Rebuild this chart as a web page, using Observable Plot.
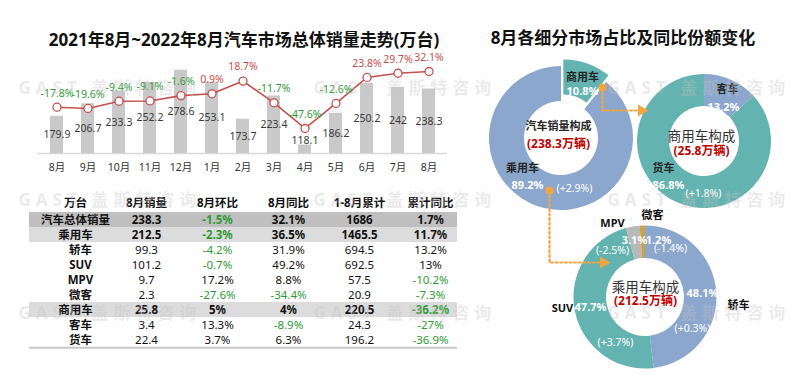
<!DOCTYPE html>
<html><head><meta charset="utf-8">
<script src="https://cdn.jsdelivr.net/npm/d3@7"></script>
<script src="https://cdn.jsdelivr.net/npm/@observablehq/plot@0.6"></script>
<style>
body{margin:0;background:#fff;}
#page{position:relative;width:800px;height:390px;overflow:hidden;background:#fff;font-family:"Noto Sans","Noto Sans CJK SC",sans-serif;}
.title{position:absolute;font-weight:700;font-size:17px;color:#111;white-space:nowrap;transform:translate(-50%,-50%);line-height:1;}
</style></head><body><div id="page"></div>
<script>
// ---------------- DATA ----------------
const leftTitle = "2021年8月~2022年8月汽车市场总体销量走势(万台)";
const rightTitle = "8月各细分市场占比及同比份额变化";
const monthKeys = ["2021-08","2021-09","2021-10","2021-11","2021-12","2022-01","2022-02","2022-03","2022-04","2022-05","2022-06","2022-07","2022-08"];
const monthLabels = ["8月","9月","10月","11月","12月","1月","2月","3月","4月","5月","6月","7月","8月"];
const monthlySales = [179.9,206.7,233.3,252.2,278.6,253.1,173.7,223.4,118.1,186.2,250.2,242,238.3];
const monthlyYoY = [-17.8,-19.6,-9.4,-9.1,-1.6,0.9,18.7,-11.7,-47.6,-12.6,23.8,29.7,32.1];

const tableCols = ["万台","8月销量","8月环比","8月同比","1-8月累计","累计同比"];
const tableRows = ["汽车总体销量","乘用车","轿车","SUV","MPV","微客","商用车","客车","货车"];
const augSales = [238.3,212.5,99.3,101.2,9.7,2.3,25.8,3.4,22.4];
const augMoM = [-1.5,-2.3,-4.2,-0.7,17.2,-27.6,5,13.3,3.7];
const augYoY = [32.1,36.5,31.9,49.2,8.8,-34.4,4,-8.9,6.3];
const ytdSales = [1686,1465.5,694.5,692.5,57.5,20.9,220.5,24.3,196.2];
const ytdYoY = [1.7,11.7,13.2,13,-10.2,-7.3,-36.2,-27,-36.9];
const boldRows = ["汽车总体销量","乘用车","商用车"];

const totalSegs = ["商用车","乘用车"];
const totalShares = [10.8,89.2];
const totalShareChange = [null,2.9];
const commSegs = ["客车","货车"];
const commShares = [13.2,86.8];
const commShareChange = [null,1.8];
const paxSegs = ["轿车","SUV","MPV","微客"];
const paxShares = [48.1,47.7,3.1,1.2];
const paxShareChange = [0.3,3.7,-2.5,-1.4];
const donutTitles = ["汽车销量构成","商用车构成","乘用车构成"];
const donutTotals = [238.3,25.8,212.5];
const watermarkText = "GAST 盖斯特咨询";

// ---------------- STYLE / LAYOUT ----------------
const FONT = '"Noto Sans","Noto Sans CJK SC",sans-serif';
const GREEN = "#2f9a35", RED = "#c4504e", BLUE = "#8ba7cd", TEAL = "#63b3b0", GREY = "#b9b9b9", GOLD = "#c9a146", ORANGE = "#f2a641";
const baseStyle = {fontFamily: FONT, fontSize: "11px", background: "transparent", overflow: "visible"};
const LAYOUT = {
  leftYoY: {base: 226.7, k: 1.534},       // maps YoY % onto the sales axis (secondary axis)
  table: {top: 185, height: 175, mt: 24, mb: 10},
  donut: {
    total: {cx: 101, cy: 138, rOut: 72, rIn: 37, explode: 7},
    comm:  {cx: 244, cy: 141, rOut: 67, rIn: 35},
    pax:   {cx: 185, cy: 297, rOut: 71.5, rIn: 39}
  },
  arrows: [
    [[142,87],[142,110],[181,110]],
    [[89,190],[89,262],[143,262]]
  ],
  watermarks: {xs: [18, 313, 607], ys: [88, 200, 313]}
};

const page = document.getElementById("page");
function place(node, left, top){ node.style.position="absolute"; node.style.left=left+"px"; node.style.top=top+"px"; page.appendChild(node); }
const fmtPct = v => (Math.round(v*10)/10) + "%";
const signPct = v => "(" + (v>0?"+":"") + v + "%)";

// ---------------- LEFT: bars + line ----------------
const bars = monthKeys.map((k,i)=>({key:k, month: monthLabels[i], sales: monthlySales[i], yoy: monthlyYoY[i]}));
const Y0 = 100;
const yoyY = p => LAYOUT.leftYoY.base + LAYOUT.leftYoY.k * p;
const leftPlot = Plot.plot({
  width: 460, height: 185, marginLeft: 37, marginRight: 13, marginTop: 55, marginBottom: 32,
  style: baseStyle,
  x: {type: "band", domain: monthKeys, paddingInner: 0.59, paddingOuter: 0.295, axis: null},
  y: {domain: [Y0, 310.3], axis: null},
  color: {type: "identity"},
  marks: [
    Plot.ruleY([Y0], {stroke: "#d9d9d9", strokeWidth: 1.5}),
    Plot.barY(bars, {x: "key", y1: Y0, y2: "sales", fill: "#c9c9c9"}),
    Plot.text(bars, {x: "key", y: d => Math.max((d.sales + Y0)/2, 128), text: d => String(d.sales), fill: "#3a3a3a", fontSize: 10.5}),
    Plot.line(bars, {x: "key", y: d => yoyY(d.yoy), stroke: RED, strokeWidth: 1.6}),
    Plot.dot(bars, {x: "key", y: d => yoyY(d.yoy), r: 4, fill: "white", stroke: RED, strokeWidth: 1.3}),
    Plot.text(bars, {x: "key", y: d => yoyY(d.yoy), dy: -14, text: d => d.yoy.toFixed(1) + "%", fill: d => d.yoy < 0 ? GREEN : RED, fontSize: 10.5}),
    Plot.text(bars, {x: "key", frameAnchor: "bottom", dy: 17, text: "month", fill: "#333", fontSize: 10.5})
  ]
});
place(leftPlot, 0, 0);

// ---------------- TABLE ----------------
const colValues = [tableRows, augSales, augMoM, augYoY, ytdSales, ytdYoY];
const pctCol = [false, false, true, true, false, true];
const cells = [];
tableRows.forEach((row, i) => {
  tableCols.forEach((col, j) => {
    const v = colValues[j][i];
    const isBoldRow = boldRows.includes(row);
    cells.push({
      row, col,
      text: j === 0 ? v : (pctCol[j] ? v + "%" : String(v)),
      color: pctCol[j] && v < 0 ? GREEN : "#111",
      bold: isBoldRow || j === 0,
      indent: j === 0 && !isBoldRow
    });
  });
});
const T = LAYOUT.table;
const bw = (T.height - T.mt - T.mb) / tableRows.length;
const tablePlot = Plot.plot({
  width: 460, height: T.height, marginLeft: 29, marginRight: 3, marginTop: T.mt, marginBottom: T.mb,
  style: baseStyle,
  x: {type: "point", domain: tableCols, padding: 0.514, align: 0.63, axis: null},
  y: {type: "band", domain: tableRows, padding: 0, axis: null},
  color: {type: "identity"},
  marks: [
    Plot.cell([boldRows[0]], {y: d => d, fill: "#bfbfbf"}),
    Plot.cell(boldRows.slice(1), {y: d => d, fill: "#dcdcdc"}),
    Plot.ruleY([tableRows[tableRows.length-1]], {y: d => d, dy: bw/2, stroke: "#c8c8c8", strokeWidth: 2}),
    Plot.text(tableCols, {x: d => d, frameAnchor: "top", dy: -11, text: d => d, fontWeight: "bold", fill: "#111", fontSize: 11.5}),
    Plot.text(cells.filter(c => c.bold && !c.indent), {x: "col", y: "row", text: "text", fill: "color", fontWeight: "bold", fontSize: 11.5}),
    Plot.text(cells.filter(c => c.indent), {x: "col", y: "row", text: "text", fill: "color", fontWeight: "bold", fontSize: 11.5, dx: 5}),
    Plot.text(cells.filter(c => !c.bold), {x: "col", y: "row", text: "text", fill: "color", fontSize: 11.5})
  ]
});
place(tablePlot, 0, T.top);

// ---------------- RIGHT: donuts ----------------
function donut(segs, shares, colors, geo) {
  return (index, scales) => {
    const g = d3.create("svg:g");
    const arcs = d3.pie().sort(null).value(d => d.share)(segs.map((s,i)=>({seg: s, share: shares[i], color: colors[i]})));
    const arc = d3.arc().innerRadius(geo.rIn).outerRadius(geo.rOut);
    const cx = scales.x(geo.cx), cy = scales.y(geo.cy);
    g.selectAll("path").data(arcs).join("path")
      .attr("d", arc)
      .attr("fill", d => d.data.color)
      .attr("transform", (d, i) => {
        let ex = 0, ey = 0;
        if (geo.explode && i === 0) { const a = (d.startAngle + d.endAngle)/2; ex = geo.explode*Math.sin(a); ey = -geo.explode*Math.cos(a); }
        return `translate(${cx+ex},${cy+ey})`;
      });
    return g.node();
  };
}
const D = LAYOUT.donut;
const labels = [];
function lab(geo, off, text, kind){ labels.push({x: geo.cx + off[0], y: geo.cy + off[1], text, kind}); }
// total donut
lab(D.total, [21,-61], totalSegs[0], "inName");
lab(D.total, [21,-47], fmtPct(totalShares[0]), "pct");
lab(D.total, [-39,30], totalSegs[1], "inName");
lab(D.total, [-34,47], fmtPct(totalShares[1]), "pct");
lab(D.total, [13,50], signPct(totalShareChange[1]), "chg");
lab(D.total, [-3,-12], donutTitles[0], "ctitleS");
lab(D.total, [-3,6], "(" + donutTotals[0] + "万辆)", "ctotal");
// commercial donut
lab(D.comm, [23,-52], commSegs[0], "inName");
lab(D.comm, [19,-34], fmtPct(commShares[0]), "pct");
lab(D.comm, [-41,27], commSegs[1], "inName");
lab(D.comm, [-36,44], fmtPct(commShares[1]), "pct");
lab(D.comm, [-1,52], signPct(commShareChange[1]), "chg");
lab(D.comm, [-3,-5], donutTitles[1], "ctitle");
lab(D.comm, [-3,10], "(" + donutTotals[1] + "万辆)", "ctotal");
// passenger donut
lab(D.pax, [93,8], paxSegs[0], "outName");
lab(D.pax, [57,-4], fmtPct(paxShares[0]), "pct");
lab(D.pax, [47,31], signPct(paxShareChange[0]), "chg");
lab(D.pax, [-83,11], paxSegs[1], "outName");
lab(D.pax, [-55,10], fmtPct(paxShares[1]), "pct");
lab(D.pax, [-30,45], signPct(paxShareChange[1]), "chg");
lab(D.pax, [-33,-74], paxSegs[2], "outName");
lab(D.pax, [-11,-57], fmtPct(paxShares[2]), "pct");
lab(D.pax, [-33,-47], signPct(paxShareChange[2]), "chg");
lab(D.pax, [7,-82], paxSegs[3], "outName");
lab(D.pax, [13,-57], fmtPct(paxShares[3]), "pct");
lab(D.pax, [25,-49], signPct(paxShareChange[3]), "chg");
lab(D.pax, [0,-10], donutTitles[2], "ctitle");
lab(D.pax, [0,4], "(" + donutTotals[2] + "万辆)", "ctotal");

const byKind = k => labels.filter(l => l.kind === k);
const arrowPts = LAYOUT.arrows.map((pts, id) => pts.map(([x,y]) => ({id, x, y})));
const rightPlot = Plot.plot({
  width: 340, height: 390, margin: 0,
  style: baseStyle,
  x: {domain: [0, 340], range: [0, 340], axis: null},
  y: {domain: [0, 390], range: [0, 390], axis: null},
  color: {type: "identity"},
  marks: [
    donut(totalSegs, totalShares, [TEAL, BLUE], D.total),
    donut(commSegs, commShares, [BLUE, TEAL], D.comm),
    donut(paxSegs, paxShares, [BLUE, TEAL, GREY, GOLD], D.pax),
    ...arrowPts.map(pts => Plot.line(pts, {x: "x", y: "y", stroke: ORANGE, strokeWidth: 2.2, strokeDasharray: "2 2.6"})),
    Plot.dot(arrowPts.map(p => p[0]), {x: "x", y: "y", r: 4, fill: ORANGE}),
    Plot.dot(arrowPts.map(p => p[p.length-1]), {x: "x", y: "y", r: 4.5, symbol: "triangle", rotate: 90, fill: ORANGE}),
    Plot.text(byKind("inName"), {x: "x", y: "y", text: "text", fill: "#262626", fontWeight: 600, fontSize: 11}),
    Plot.text(byKind("outName"), {x: "x", y: "y", text: "text", fill: "#111", fontWeight: "bold", fontSize: 11}),
    Plot.text(byKind("pct"), {x: "x", y: "y", text: "text", fill: "white", fontWeight: "bold", fontSize: 11}),
    Plot.text(byKind("chg"), {x: "x", y: "y", text: "text", fill: "white", fontSize: 10.5}),
    Plot.text(byKind("ctitleS"), {x: "x", y: "y", text: "text", fill: "#262626", fontWeight: 600, fontSize: 11}),
    Plot.text(byKind("ctitle"), {x: "x", y: "y", text: "text", fill: "#333", fontSize: 13.5}),
    Plot.text(byKind("ctotal"), {x: "x", y: "y", text: "text", fill: "#c00000", fontWeight: "bold", fontSize: 12})
  ]
});
place(rightPlot, 460, 0);

// ---------------- TITLES ----------------
function title(text, cx, cy){ const d = document.createElement("div"); d.className = "title"; d.textContent = text; d.style.left = cx+"px"; d.style.top = cy+"px"; page.appendChild(d); }
title(leftTitle, 244, 39);
title(rightTitle, 623, 37);

// ---------------- WATERMARK OVERLAY ----------------
const wm = [];
LAYOUT.watermarks.ys.forEach(y => LAYOUT.watermarks.xs.forEach(x => wm.push({x, y, text: watermarkText})));
const wmPlot = Plot.plot({
  width: 800, height: 390, margin: 0,
  style: {...baseStyle, letterSpacing: "5px", pointerEvents: "none"},
  x: {domain: [0, 800], range: [0, 800], axis: null},
  y: {domain: [0, 390], range: [0, 390], axis: null},
  marks: [Plot.text(wm, {x: "x", y: "y", text: "text", textAnchor: "start", fill: "#c4c4c4", fillOpacity: 0.35, fontWeight: "bold", fontSize: 17})]
});
place(wmPlot, 0, 0);
</script></body></html>
